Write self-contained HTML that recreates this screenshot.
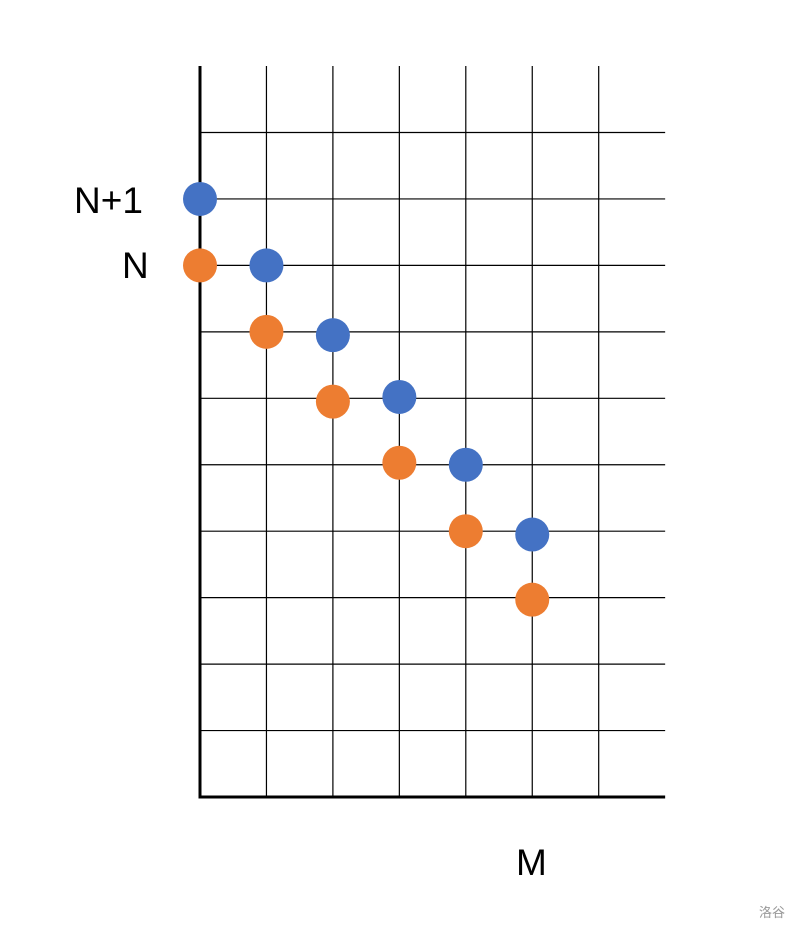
<!DOCTYPE html>
<html><head><meta charset="utf-8">
<style>
html,body{margin:0;padding:0;background:#fff;}
svg{display:block;}
text{font-family:"Liberation Sans","Noto Sans CJK SC",sans-serif;}
</style></head>
<body>
<svg id="chart" width="800" height="932" viewBox="0 0 800 932">
<g id="grid"></g>
<g id="axes"></g>
<g id="points"></g>
<text x="74" y="213" font-size="37" fill="#000">N+1</text>
<text x="122" y="278" font-size="37" fill="#000">N</text>
<text x="516" y="875" font-size="37" fill="#000">M</text>
<text x="759" y="917" font-size="13" fill="#999">洛谷</text>
</svg>
<script>
const blueX = [0, 1, 2, 3, 4, 5];
const blueY = [9, 8, 6.95, 6.02, 5, 3.95];
const orangeX = [0, 1, 2, 3, 4, 5];
const orangeY = [8, 7, 5.95, 5.03, 4, 2.97];
const colCount = 7;
const rowCount = 11;

const x0 = 200, y0 = 797, cell = 66.45;
function sx(v){ return x0 + v*cell; }
function sy(v){ return y0 - v*cell; }
const NS = "http://www.w3.org/2000/svg";
const grid = document.getElementById('grid');
const axes = document.getElementById('axes');
const pts = document.getElementById('points');
function line(g,x1,y1,x2,y2,w){
  const l=document.createElementNS(NS,'line');
  l.setAttribute('x1',x1);l.setAttribute('y1',y1);l.setAttribute('x2',x2);l.setAttribute('y2',y2);
  l.setAttribute('stroke','#000');l.setAttribute('stroke-width',w);
  g.appendChild(l);return l;
}
for(let i=1;i<=colCount-1;i++){
  const l=line(grid,sx(i),sy(rowCount),sx(i),y0,1.2);
  
  
}
for(let j=1;j<=rowCount-1;j++){
  const l=line(grid,x0,sy(j),sx(colCount),sy(j),1.2);
  
  
}
const ya=line(axes,x0,sy(rowCount),x0,y0+1.5,3);


const xa=line(axes,x0-1.5,y0,sx(colCount),y0,3);


function dot(x,y,c,name){
  const e=document.createElementNS(NS,'circle');
  e.setAttribute('cx',sx(x));e.setAttribute('cy',sy(y));e.setAttribute('r',17);e.setAttribute('fill',c);
  
  
  pts.appendChild(e);
}
orangeX.forEach((x,i)=>dot(x,orangeY[i],'#ED7D31','orange-point'));
blueX.forEach((x,i)=>dot(x,blueY[i],'#4472C4','blue-point'));
</script>
</body></html>
